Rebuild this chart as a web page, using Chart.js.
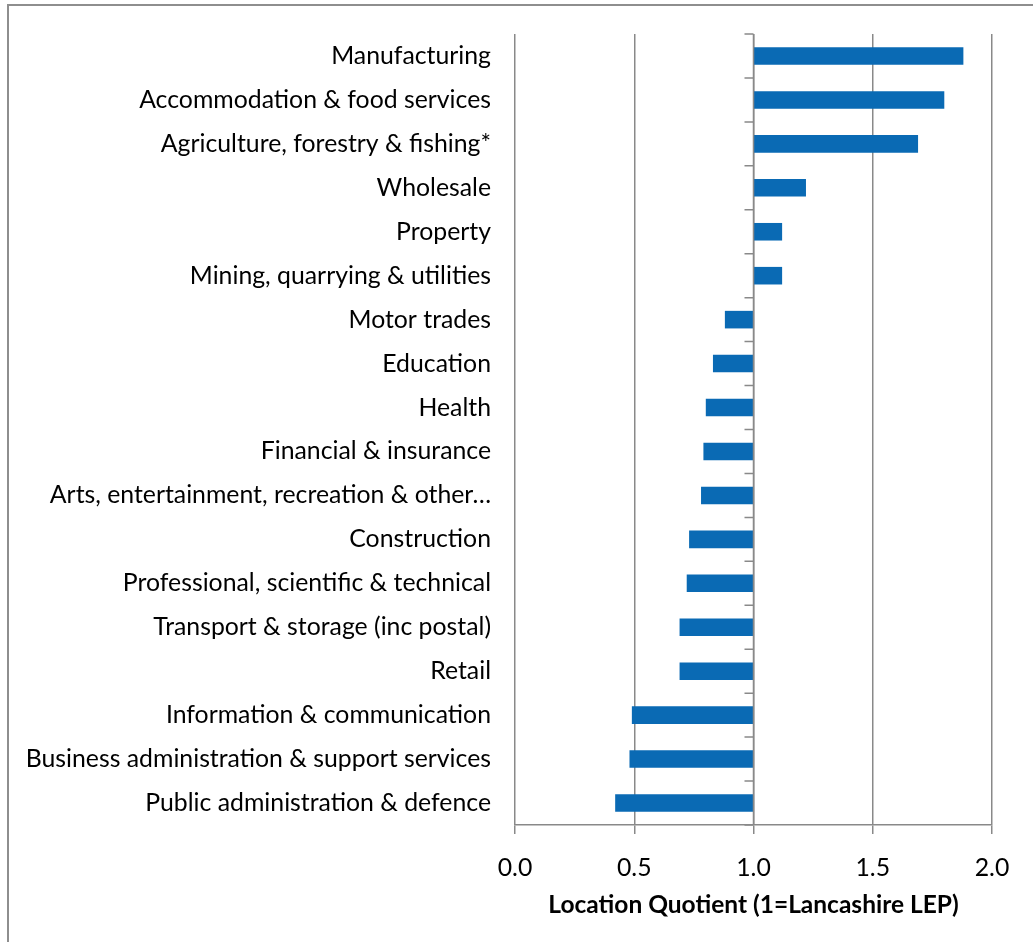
<!DOCTYPE html>
<html>
<head>
<meta charset="utf-8">
<title>Location Quotient by sector</title>
<script src="https://cdn.jsdelivr.net/npm/chart.js@4.4.1/dist/chart.umd.min.js"></script>
<style>
  html, body { margin: 0; padding: 0; background: #fff; }
  #wrap { position: relative; width: 1033px; height: 942px; overflow: hidden; }
  #lqChart { position: absolute; left: 0; top: 0; }
  /* outer chart border, cut off at the right and bottom */
  #frame {
    position: absolute; left: 7px; top: 4px; right: -4px; bottom: -4px;
    border-top: 2px solid #8e8e8e; border-left: 2px solid #8e8e8e;
    pointer-events: none;
  }
</style>
</head>
<body>
<div id="wrap">
  <canvas id="lqChart" width="1033" height="942"></canvas>
  <div id="frame"></div>
</div>
<script>
// sectors, top to bottom
const sectors = [
    'Manufacturing',
    'Accommodation & food services',
    'Agriculture, forestry & fishing*',
    'Wholesale',
    'Property',
    'Mining, quarrying & utilities',
    'Motor trades',
    'Education',
    'Health',
    'Financial & insurance',
    'Arts, entertainment, recreation & other\u2026',
    'Construction',
    'Professional, scientific & technical',
    'Transport & storage (inc postal)',
    'Retail',
    'Information & communication',
    'Business administration & support services',
    'Public administration & defence'
];

// location quotient per sector
const lqValues = [1.88, 1.80, 1.69, 1.22, 1.12, 1.12, 0.88, 0.83, 0.80, 0.79, 0.78, 0.73, 0.72, 0.69, 0.69, 0.49, 0.48, 0.42];

// bars grow out from the Lancashire LEP level
const baseline = 1;
const xMin = 0;
const xMax = 2;
const xStep = 0.5;

const FONT = 'Lato, "Open Sans", sans-serif';
const FONT_SIZE = 24.8;
const AXIS_GREY = '#898989';
const BAR_BLUE = '#0A6AB4';

// vertical axis at the baseline with its tick marks between categories
const baselineAxis = {
    id: 'baselineAxis',
    afterDatasetsDraw(chart) {
        const { ctx, scales: { x, y } } = chart;
        const px = x.getPixelForValue(baseline);
        ctx.save();
        ctx.strokeStyle = AXIS_GREY;
        ctx.lineWidth = 1.5;
        ctx.beginPath();
        ctx.moveTo(px, y.top);
        ctx.lineTo(px, y.bottom);
        for (let i = 0; i <= sectors.length; i++) {
            const py = y.getPixelForValue(i - 0.5);
            ctx.moveTo(px - 9, py);
            ctx.lineTo(px, py);
        }
        ctx.stroke();
        ctx.restore();
    }
};

const ctx = document.getElementById('lqChart').getContext('2d');
new Chart(ctx, {
    type: 'bar',
    data: {
        labels: sectors,
        datasets: [{
            data: lqValues.map(v => [baseline, v]),
            backgroundColor: BAR_BLUE,
            borderWidth: 0,
            barPercentage: 0.4,
            categoryPercentage: 1
        }]
    },
    options: {
        indexAxis: 'y',
        responsive: false,
        animation: false,
        layout: { padding: { top: 34, right: 41, left: 0, bottom: 0 } },
        plugins: {
            legend: { display: false },
            tooltip: { enabled: false }
        },
        scales: {
            x: {
                min: xMin,
                max: xMax,
                afterFit: s => { s.height = 117; },
                ticks: {
                    stepSize: xStep,
                    callback: v => Number(v).toFixed(1),
                    color: '#000',
                    font: { family: FONT, size: FONT_SIZE },
                    padding: 19,
                    maxRotation: 0
                },
                grid: { color: AXIS_GREY, lineWidth: 1.5, tickLength: 9 },
                border: { color: AXIS_GREY, width: 1.5 },
                title: {
                    display: true,
                    text: 'Location Quotient (1=Lancashire LEP)',
                    color: '#000',
                    font: { family: FONT, size: 24.5, weight: 'bold' },
                    padding: { top: 4, bottom: 22 }
                }
            },
            y: {
                afterFit: s => { s.width = 515; },
                grid: { display: false },
                border: { display: false },
                ticks: {
                    color: '#000',
                    font: { family: FONT, size: FONT_SIZE },
                    padding: 16,
                    autoSkip: false
                }
            }
        }
    },
    plugins: [baselineAxis]
});
</script>
</body>
</html>
